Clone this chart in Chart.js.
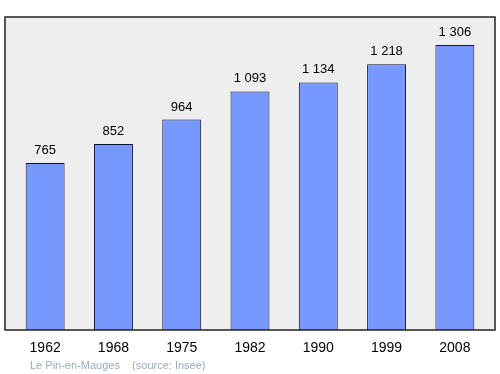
<!DOCTYPE html>
<html>
<head>
<meta charset="utf-8">
<script src="https://cdn.jsdelivr.net/npm/chart.js@4/dist/chart.umd.min.js"></script>
<style>
  html, body { margin: 0; padding: 0; background: #ffffff; }
  #wrap { width: 500px; height: 374px; }
</style>
</head>
<body>
<div id="wrap"><canvas id="popChart" width="500" height="374"></canvas></div>
<script>
const years = ['1962', '1968', '1975', '1982', '1990', '1999', '2008'];
const population = [765, 852, 964, 1093, 1134, 1218, 1306];
const footerText = 'Le Pin-en-Mauges    (source: Insee)';

function fmt(n) {
  return String(n).replace(/\B(?=(\d{3})+(?!\d))/g, ' ');
}

// grey frame behind the bars, a bit wider than the category area
const framePlugin = {
  id: 'frame',
  beforeDatasetsDraw(chart) {
    const a = chart.chartArea;
    const ctx = chart.ctx;
    ctx.save();
    ctx.fillStyle = '#eeeeee';
    ctx.fillRect(5, a.top, 490, a.bottom - a.top);
    ctx.restore();
  },
  afterDatasetsDraw(chart) {
    const a = chart.chartArea;
    const ctx = chart.ctx;
    ctx.save();
    ctx.strokeStyle = '#222222';
    ctx.lineWidth = 1.5;
    ctx.strokeRect(5, a.top, 490, a.bottom - a.top);

    // values above bars
    const meta = chart.getDatasetMeta(0);
    ctx.fillStyle = '#000000';
    ctx.font = '13px "Liberation Sans", Arial, sans-serif';
    ctx.textAlign = 'center';
    ctx.textBaseline = 'alphabetic';
    meta.data.forEach((bar, i) => {
      ctx.fillText(fmt(population[i]), bar.x, bar.y - 9);
    });

    ctx.fillStyle = '#99aabb';
    ctx.font = '11px "Liberation Sans", Arial, sans-serif';
    ctx.textAlign = 'left';
    ctx.fillText(footerText, 30, 369);
    ctx.restore();
  }
};

new Chart(document.getElementById('popChart'), {
  type: 'bar',
  data: {
    labels: years,
    datasets: [{
      data: population,
      backgroundColor: '#7799ff',
      borderColor: '#111133',
      borderWidth: 1,
      barPercentage: 0.57,
      categoryPercentage: 1.0
    }]
  },
  options: {
    responsive: false,
    animation: false,
    layout: { padding: { left: 11, right: 11, top: 17, bottom: 9 } },
    plugins: { legend: { display: false }, tooltip: { enabled: false } },
    scales: {
      x: {
        grid: { display: false, drawTicks: false },
        border: { display: false },
        afterFit(scale) { scale.height = 35; },
        ticks: {
          color: '#000000',
          padding: 10,
          font: { family: '"Liberation Sans", Arial, sans-serif', size: 14 }
        }
      },
      y: {
        display: false,
        min: 0,
        max: 1434
      }
    }
  },
  plugins: [framePlugin]
});
</script>
</body>
</html>
